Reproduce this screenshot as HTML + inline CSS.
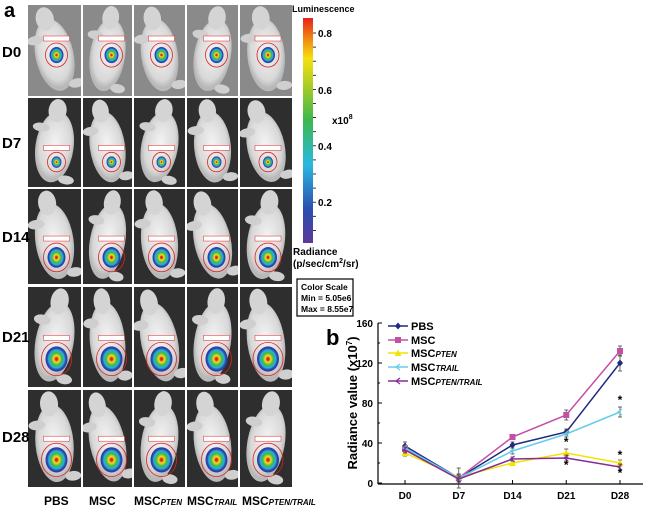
<!DOCTYPE html>
<html><head><meta charset="utf-8"><style>
body{margin:0;width:650px;height:513px;background:#fff;overflow:hidden;font-family:"Liberation Sans",sans-serif}
svg text{font-family:"Liberation Sans",sans-serif}
</style></head><body>
<svg id="fig" width="650" height="513" viewBox="0 0 650 513" xmlns="http://www.w3.org/2000/svg">
<defs id="defs">
<linearGradient id="cbar" x1="0" y1="1" x2="0" y2="0">
<stop offset="0" stop-color="#5a3a9a"/><stop offset="0.15" stop-color="#2b4fb0"/><stop offset="0.35" stop-color="#2ab8e0"/><stop offset="0.55" stop-color="#3cb84a"/><stop offset="0.72" stop-color="#b8d020"/><stop offset="0.82" stop-color="#f5e010"/><stop offset="0.92" stop-color="#f07a10"/><stop offset="1" stop-color="#e8201a"/>
</linearGradient>
<radialGradient id="heat"><stop offset="0.1" stop-color="#e82010"/><stop offset="0.25" stop-color="#f0e020"/><stop offset="0.5" stop-color="#3cb84a"/><stop offset="0.7" stop-color="#2ab0e0"/><stop offset="0.85" stop-color="#2a4ab0"/><stop offset="1" stop-color="#2a3a9a"/></radialGradient>
<radialGradient id="body" cx="0.5" cy="0.45"><stop offset="0" stop-color="#f4f4f4"/><stop offset="0.8" stop-color="#d8d8d8"/><stop offset="1" stop-color="#b8b8b8"/></radialGradient>
</defs>
<text x="4" y="17" font-size="20" font-weight="bold">a</text>
<g id="grid"></g>
<g font-size="15" font-weight="bold">
<text x="2" y="57">D0</text><text x="2" y="148">D7</text><text x="2" y="242">D14</text><text x="2" y="342">D21</text><text x="2" y="442">D28</text></g>
<g font-size="12" font-weight="bold">
<text x="44" y="505">PBS</text><text x="89" y="505">MSC</text>
<text x="134" y="505">MSC<tspan font-size="8" font-style="italic">PTEN</tspan></text>
<text x="187" y="505">MSC<tspan font-size="8" font-style="italic">TRAIL</tspan></text>
<text x="242" y="505">MSC<tspan font-size="8" font-style="italic">PTEN/TRAIL</tspan></text></g>
<g>
<text x="292" y="12" font-size="9" font-weight="bold">Luminescence</text>
<rect x="303" y="18" width="10" height="225" fill="url(#cbar)"/>
<g id="cticks" stroke="#000" stroke-width="0.8"></g>
<g font-size="10" font-weight="bold"><text x="318" y="37">0.8</text><text x="318" y="94">0.6</text><text x="318" y="150">0.4</text><text x="318" y="206">0.2</text>
<text x="332" y="124">x10<tspan font-size="7" dy="-5">8</tspan></text></g>
<text x="293" y="255" font-size="10" font-weight="bold">Radiance</text>
<text x="293" y="267" font-size="10" font-weight="bold">(p/sec/cm<tspan font-size="7" dy="-4">2</tspan><tspan dy="4">/sr)</tspan></text>
<rect x="297" y="279" width="56" height="37" fill="#fff" stroke="#000" stroke-width="1.2"/>
<g font-size="8.5" font-weight="bold"><text x="301" y="290">Color Scale</text><text x="301" y="301">Min = 5.05e6</text><text x="301" y="312">Max = 8.55e7</text></g>
</g>
<text x="326" y="345" font-size="22" font-weight="bold">b</text>
<g id="chart"></g>
</svg>
<script>
const days=["D0","D7","D14","D21","D28"];
const yTicks=[0,40,80,120,160];
const pbs=[37,5,38,51,120];
const msc=[34,5,46,68,132];
const mscPten=[30,6,20,30,20];
const mscTrail=[35,5,32,49,71];
const mscPtenTrail=[33,4,24,25,16];
const errPbs=[4,4,3,3,8];
const errMsc=[3,3,2,5,5];
const errPten=[3,3,2,4,3];
const errTrail=[3,10,3,3,5];
const errPtenTrail=[3,3,2,3,3];
const seriesNames=["PBS","MSC","MSC","MSC","MSC"];
const NS="http://www.w3.org/2000/svg";
function el(t,a,p){const e=document.createElementNS(NS,t);for(const k in a)e.setAttribute(k,a[k]);p.appendChild(e);return e;}
const grid=document.getElementById('grid');
const defs=document.getElementById('defs');
const cols=[[28,82],[83,133],[134,186],[187,239],[240,293]];
const rows=[[5,97],[98,188],[189,285],[287,388],[390,488]];
const tilts=[-12,8,-8,10,-5];
rows.forEach((r,ri)=>cols.forEach((c,ci)=>{
 const w=c[1]-c[0]-1,h=r[1]-r[0]-1,x=c[0],y=r[0];
 const cp=el('clipPath',{id:'cp'+ri+'_'+ci},defs);
 el('rect',{x:x,y:y,width:w,height:h},cp);
 const g=el('g',{'clip-path':'url(#cp'+ri+'_'+ci+')'},grid);
 
 
 el('rect',{x:x,y:y,width:w,height:h,fill:ri==0?'#8a8a8a':'#2e2e2e'},g);
 const cx=x+w/2,cy=y+h*0.55;
 const mg=el('g',{transform:`rotate(${tilts[(ci+ri)%5]} ${cx} ${cy})`},g);
 el('ellipse',{cx:cx,cy:cy,rx:w*0.36,ry:h*0.40,fill:'url(#body)'},mg);
 el('ellipse',{cx:cx-2,cy:y+h*0.14,rx:w*0.17,ry:h*0.13,fill:'#d4d4d4'},mg);
 el('ellipse',{cx:cx-w*0.3,cy:y+h*0.35,rx:w*0.16,ry:h*0.05,fill:'#cfcfcf'},mg);
 el('ellipse',{cx:cx+w*0.3,cy:y+h*0.9,rx:w*0.15,ry:h*0.05,fill:'#cfcfcf'},mg);
 const sx=cx+(ci%2?4:2),sy=y+h*(ri==0?0.55:0.72);
 const sr=ri==0?7:(ri==1?5:ri==2?9:11);
 el('ellipse',{cx:sx,cy:sy,rx:sr,ry:sr*1.15,fill:'url(#heat)'},g);
 el('ellipse',{cx:sx,cy:sy,rx:sr+4,ry:sr*1.15+4,fill:'none',stroke:'#e02020','stroke-width':0.8},g);
 el('rect',{x:sx-13,y:sy-sr*1.15-11,width:26,height:5,fill:'#fff',stroke:'#e02020','stroke-width':0.5},g);
}));
const ct=document.getElementById('cticks');
for(let i=0;i<16;i++){const yy=33+i*14.1;if(yy<242)el('line',{x1:313,x2:316,y1:yy,y2:yy},ct);}
const chart=document.getElementById('chart');
const X0=378,X1=643,Y0=483,Y1=323;
const xs=i=>405+i*53.75;
const ys=v=>Y0-(v/160)*(Y0-Y1);
el('line',{x1:X0,y1:Y1,x2:X0,y2:Y0+1,stroke:'#000','stroke-width':1.2},chart);
el('line',{x1:X0,y1:Y0+1,x2:X1,y2:Y0+1,stroke:'#000','stroke-width':1.2},chart);
for(let v=0;v<=160;v+=20){el('line',{x1:X0,x2:X0+(v%40?2:4),y1:ys(v),y2:ys(v),stroke:'#000'},chart);}
yTicks.forEach(v=>{const t=el('text',{x:X0-5,y:ys(v)+4,'text-anchor':'end','font-size':10,'font-weight':'bold'},chart);t.textContent=v;});
days.forEach((d,i)=>{el('line',{x1:xs(i),x2:xs(i),y1:Y0+1,y2:Y0-3,stroke:'#000'},chart);const t=el('text',{x:xs(i),y:Y0+16,'text-anchor':'middle','font-size':10,'font-weight':'bold'},chart);t.textContent=d;});
const yl=el('text',{x:0,y:0,transform:'translate(357,403) rotate(-90)','text-anchor':'middle','font-size':13,'font-weight':'bold'},chart);
yl.innerHTML='Radiance value (x10<tspan font-size="8" dy="-5">7</tspan><tspan dy="5">)</tspan>';


const S=[[pbs,errPbs,'#1f2a80','d'],[msc,errMsc,'#c450a6','s'],[mscPten,errPten,'#f2e400','t'],[mscTrail,errTrail,'#66cde6','l'],[mscPtenTrail,errPtenTrail,'#852c96','l']];
function marker(type,x,y,c,p){
 if(type=='d')return el('polygon',{points:`${x},${y-3.5} ${x+3},${y} ${x},${y+3.5} ${x-3},${y}`,fill:c},p);
 if(type=='s')return el('rect',{x:x-3,y:y-3,width:6,height:6,fill:c},p);
 if(type=='t')return el('polygon',{points:`${x},${y-3.5} ${x+3.5},${y+3} ${x-3.5},${y+3}`,fill:c},p);
 return el('path',{d:`M${x+2} ${y-3} L${x-2} ${y} L${x+2} ${y+3}`,fill:'none',stroke:c,'stroke-width':1.2},p);
}
S.forEach((s,si)=>{
 const g=el('g',{},chart);
 
 
 s[0].forEach((v,i)=>{const e=s[1][i];const x=xs(i);
  el('line',{x1:x,x2:x,y1:ys(v-e),y2:ys(v+e),stroke:'#444','stroke-width':0.8},g);
  el('line',{x1:x-2,x2:x+2,y1:ys(v-e),y2:ys(v-e),stroke:'#444','stroke-width':0.8},g);
  el('line',{x1:x-2,x2:x+2,y1:ys(v+e),y2:ys(v+e),stroke:'#444','stroke-width':0.8},g);});
 el('polyline',{points:s[0].map((v,i)=>xs(i)+','+ys(v)).join(' '),fill:'none',stroke:s[2],'stroke-width':1.5},g);
 s[0].forEach((v,i)=>{const m=marker(s[3],xs(i),ys(v),s[2],g);});
});
[[3,42],[3,19],[4,84],[4,29],[4,11]].forEach(a=>{const t=el('text',{x:xs(a[0]),y:ys(a[1])+5,'text-anchor':'middle','font-size':12,'font-weight':'bold'},chart);t.textContent='*';});
const lg=el('g',{},chart);


const subs=['','','PTEN','TRAIL','PTEN/TRAIL'];
const ly=[326,340,353,367,381];
S.forEach((s,i)=>{
 const g=el('g',{},lg);
 
 
 el('line',{x1:388,x2:408,y1:ly[i],y2:ly[i],stroke:s[2],'stroke-width':1.5},g);
 marker(s[3],398,ly[i],s[2],g);
 const t=el('text',{x:411,y:ly[i]+4,'font-size':11,'font-weight':'bold'},g);
 t.innerHTML=seriesNames[i]+(subs[i]?'<tspan font-size="8" font-style="italic">'+subs[i]+'</tspan>':'');
});
</script>
</body></html>
